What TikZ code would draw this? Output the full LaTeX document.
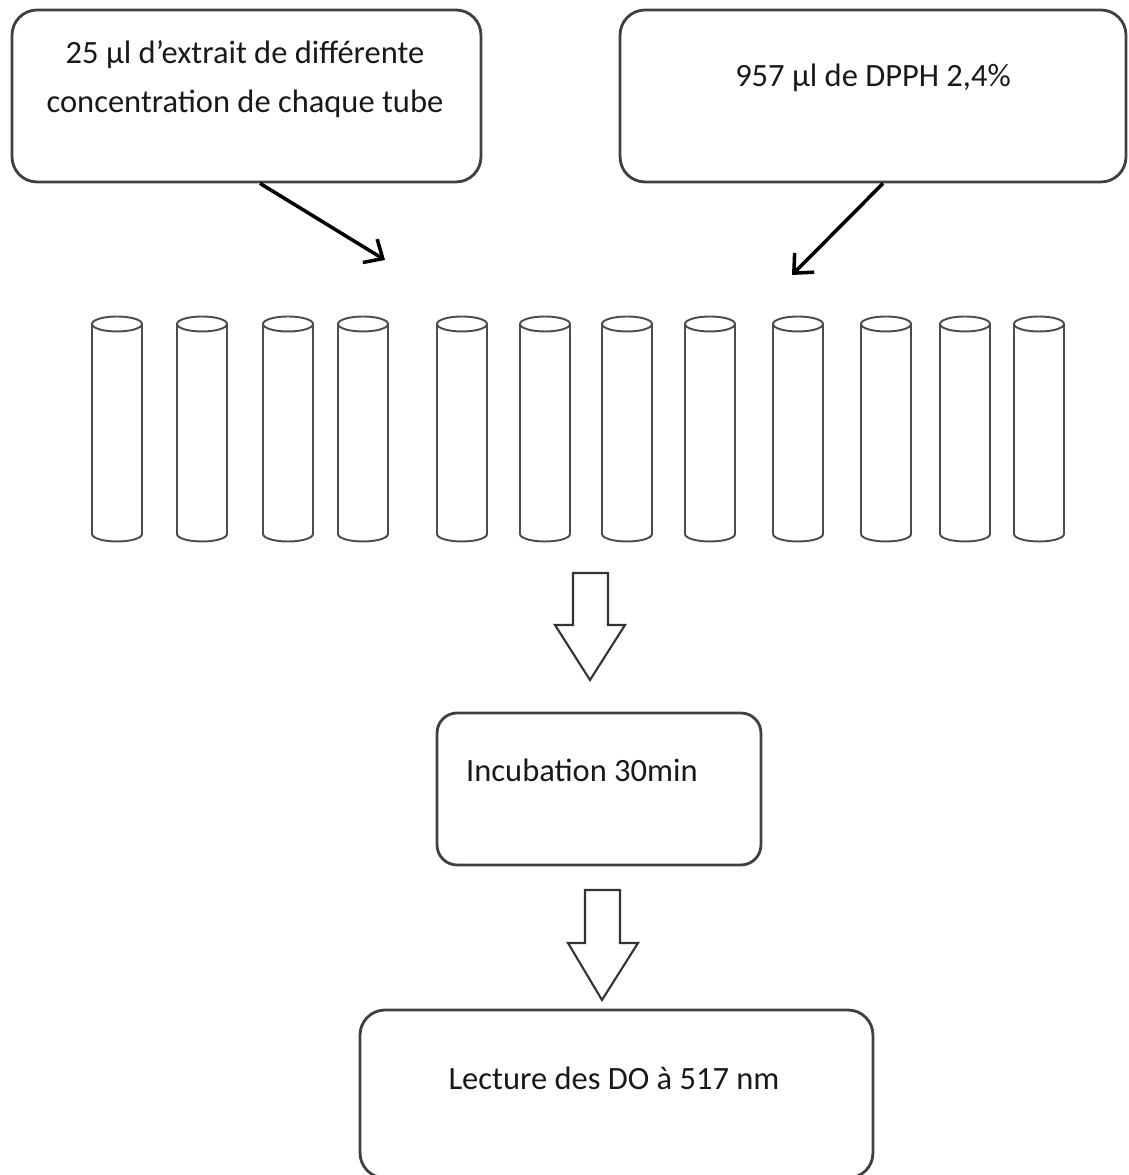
\documentclass[tikz,border=0pt]{standalone}
\usepackage{fontspec}
\setmainfont{Carlito}
\usetikzlibrary{arrows.meta}

\tikzset{
	kasten/.style={draw=black!75, line width=1.6pt, rounded corners=0.5cm},
	pfeil/.style={line width=2pt, -{Straight Barb[length=3mm,width=5.5mm]}},
	roehrchen/.style={draw=black!70, line width=1.1pt},
	blockpfeil/.style={draw=black!80, line width=1.2pt, line join=miter},
	beschriftung/.style={font=\fontsize{18.5}{27.8}\selectfont, text=black!90}
}

\begin{document}
\begin{tikzpicture}[x=0.02cm, y=0.02cm]

	% Rahmen
	\useasboundingbox (0,0) rectangle (1128,1175);

	% Kaesten oben
	\node[kasten, minimum width=9.38cm, minimum height=3.44cm] (extrait) at (246.5,1079) {};
	\node[kasten, minimum width=10.12cm, minimum height=3.44cm] (dpph) at (873,1079) {};

	\node[beschriftung, align=center] (textextrait) at (245,1095.5)
		{25 µl d’extrait de différente\\concentration de chaque tube};
	\node[beschriftung] (textdpph) at (873,1097) {957 µl de DPPH 2,4\%};

	% Zielpunkte der Pfeile
	\coordinate (ziel1) at (385,915);
	\coordinate (ziel2) at (792,900);

	% Pfeile zu den Roehrchen
	\draw[pfeil] ([xshift=0.27cm]extrait.south) -- (ziel1);
	\draw[pfeil] ([xshift=0.2cm]dpph.south) -- (ziel2);

	% Roehrchen
	\def\R{25}
	\foreach \x in {117,202,288,363,462,545,627,710,798,886,965,1039}{
		\draw[roehrchen] (\x-\R,851) -- (\x-\R,641)
			arc[start angle=180, end angle=360, x radius=\R, y radius=7.5] -- (\x+\R,851);
		\draw[roehrchen] (\x,851) ellipse[x radius=\R, y radius=7.5];
	}

	% Blockpfeil 1
	\draw[blockpfeil] (573,602) -- (608,602) -- (608,550) -- (625,550)
		-- (590,495) -- (555,550) -- (573,550) -- cycle;

	% Inkubation
	\node[kasten, rounded corners=0.4cm, minimum width=6.48cm, minimum height=3.04cm] (inkubation) at (599,386) {};
	\node[beschriftung, anchor=west] (textinkubation) at (460,405) {Incubation 30min};

	% Blockpfeil 2
	\draw[blockpfeil] (585,285) -- (620,285) -- (620,232) -- (638,232)
		-- (602,175) -- (568,232) -- (585,232) -- cycle;

	% Lecture
	\node[kasten, minimum width=10.26cm, minimum height=3.36cm] (lecture) at (616.5,81) {};
	\node[beschriftung] (textlecture) at (614,97) {Lecture des DO à 517 nm};

\end{tikzpicture}
\end{document}
